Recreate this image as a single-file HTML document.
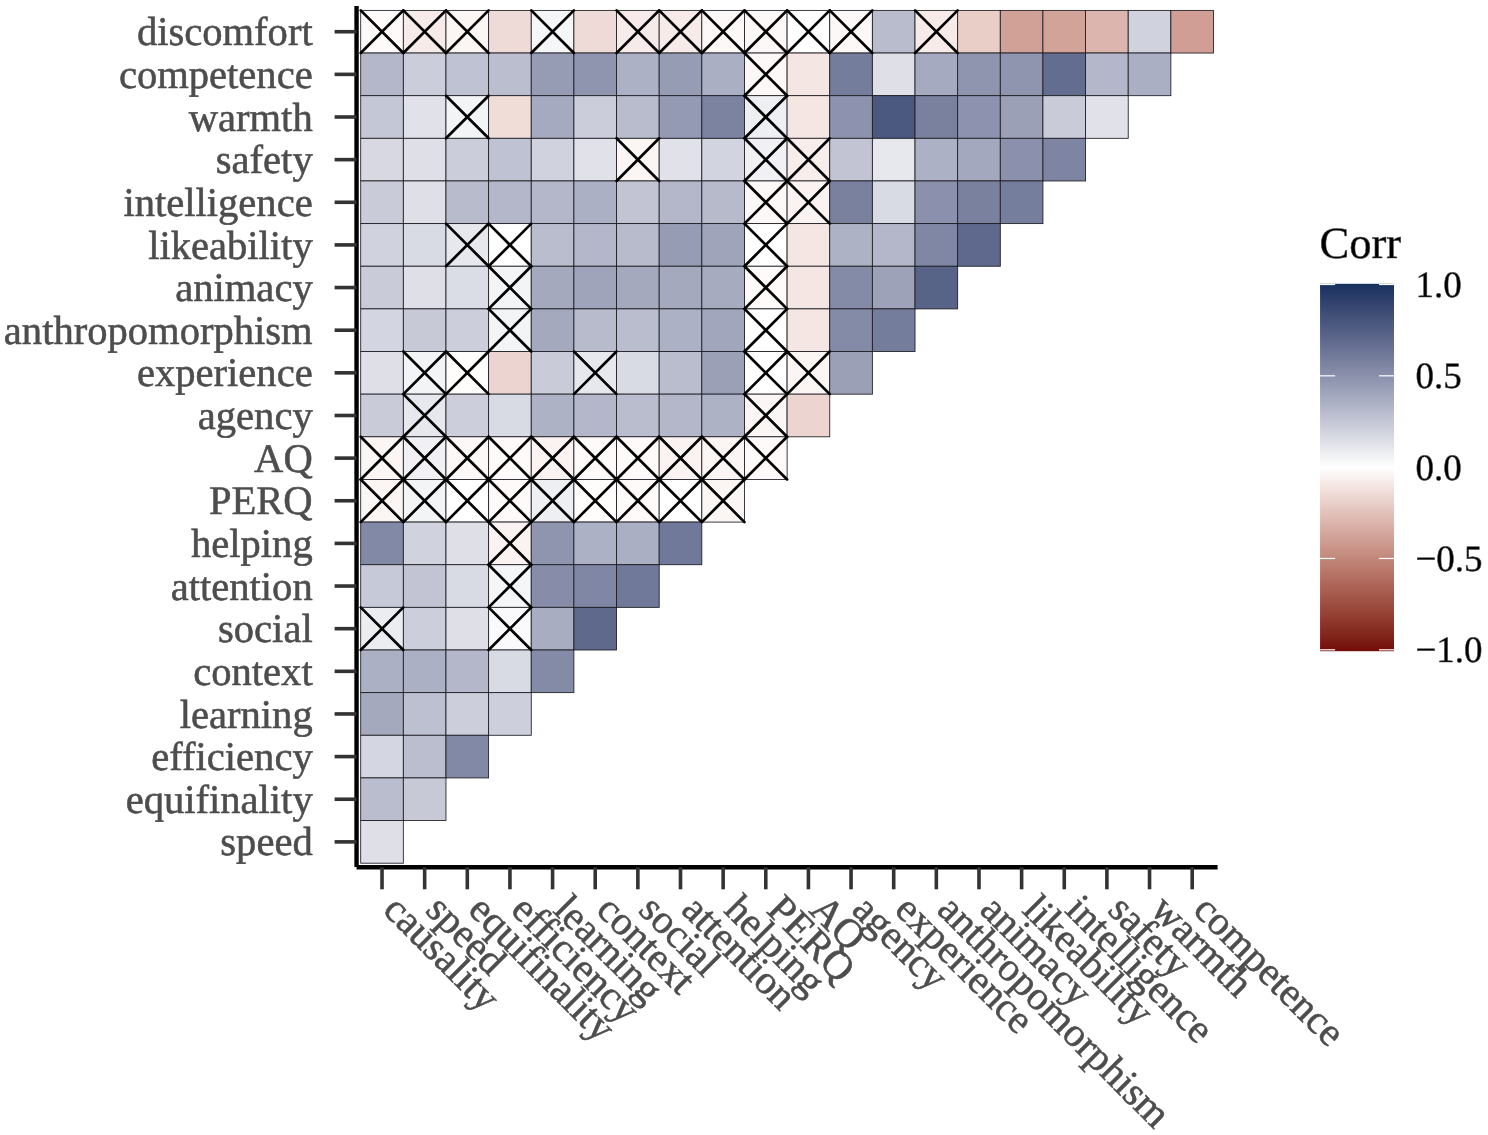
<!DOCTYPE html><html><head><meta charset="utf-8"><style>html,body{margin:0;padding:0;background:#fff;overflow:hidden}svg{display:block;will-change:transform}text{font-family:"Liberation Serif",serif;text-rendering:geometricPrecision;stroke:#4D4D4D;stroke-width:0.55px}</style></head><body>
<svg width="1488" height="1135" viewBox="0 0 1488 1135">
<rect width="100%" height="100%" fill="#fff"/>
<rect x="360.70" y="10.40" width="42.64" height="42.64" fill="#fdfaf9" stroke="#1c1c22" stroke-width="0.85"/>
<rect x="403.34" y="10.40" width="42.64" height="42.64" fill="#f6ebe9" stroke="#1c1c22" stroke-width="0.85"/>
<rect x="445.98" y="10.40" width="42.64" height="42.64" fill="#fbf5f4" stroke="#1c1c22" stroke-width="0.85"/>
<rect x="488.62" y="10.40" width="42.64" height="42.64" fill="#eedad6" stroke="#1c1c22" stroke-width="0.85"/>
<rect x="531.26" y="10.40" width="42.64" height="42.64" fill="#f5f6f8" stroke="#1c1c22" stroke-width="0.85"/>
<rect x="573.90" y="10.40" width="42.64" height="42.64" fill="#eedad6" stroke="#1c1c22" stroke-width="0.85"/>
<rect x="616.54" y="10.40" width="42.64" height="42.64" fill="#f6ebe9" stroke="#1c1c22" stroke-width="0.85"/>
<rect x="659.18" y="10.40" width="42.64" height="42.64" fill="#f6ebe9" stroke="#1c1c22" stroke-width="0.85"/>
<rect x="701.82" y="10.40" width="42.64" height="42.64" fill="#fcf8f7" stroke="#1c1c22" stroke-width="0.85"/>
<rect x="744.46" y="10.40" width="42.64" height="42.64" fill="#fcf8f7" stroke="#1c1c22" stroke-width="0.85"/>
<rect x="787.10" y="10.40" width="42.64" height="42.64" fill="#ffffff" stroke="#1c1c22" stroke-width="0.85"/>
<rect x="829.74" y="10.40" width="42.64" height="42.64" fill="#fcf8f7" stroke="#1c1c22" stroke-width="0.85"/>
<rect x="872.38" y="10.40" width="42.64" height="42.64" fill="#b8bccd" stroke="#1c1c22" stroke-width="0.85"/>
<rect x="915.02" y="10.40" width="42.64" height="42.64" fill="#f6ebe9" stroke="#1c1c22" stroke-width="0.85"/>
<rect x="957.66" y="10.40" width="42.64" height="42.64" fill="#e9cec8" stroke="#1c1c22" stroke-width="0.85"/>
<rect x="1000.30" y="10.40" width="42.64" height="42.64" fill="#d1a197" stroke="#1c1c22" stroke-width="0.85"/>
<rect x="1042.94" y="10.40" width="42.64" height="42.64" fill="#d2a399" stroke="#1c1c22" stroke-width="0.85"/>
<rect x="1085.58" y="10.40" width="42.64" height="42.64" fill="#dcb6ae" stroke="#1c1c22" stroke-width="0.85"/>
<rect x="1128.22" y="10.40" width="42.64" height="42.64" fill="#d0d2dd" stroke="#1c1c22" stroke-width="0.85"/>
<rect x="1170.86" y="10.40" width="42.64" height="42.64" fill="#d09e94" stroke="#1c1c22" stroke-width="0.85"/>
<rect x="360.70" y="53.04" width="42.64" height="42.64" fill="#b4b7c9" stroke="#1c1c22" stroke-width="0.85"/>
<rect x="403.34" y="53.04" width="42.64" height="42.64" fill="#cbcdda" stroke="#1c1c22" stroke-width="0.85"/>
<rect x="445.98" y="53.04" width="42.64" height="42.64" fill="#bfc2d2" stroke="#1c1c22" stroke-width="0.85"/>
<rect x="488.62" y="53.04" width="42.64" height="42.64" fill="#bbbece" stroke="#1c1c22" stroke-width="0.85"/>
<rect x="531.26" y="53.04" width="42.64" height="42.64" fill="#969cb4" stroke="#1c1c22" stroke-width="0.85"/>
<rect x="573.90" y="53.04" width="42.64" height="42.64" fill="#9095af" stroke="#1c1c22" stroke-width="0.85"/>
<rect x="616.54" y="53.04" width="42.64" height="42.64" fill="#adb1c5" stroke="#1c1c22" stroke-width="0.85"/>
<rect x="659.18" y="53.04" width="42.64" height="42.64" fill="#969cb4" stroke="#1c1c22" stroke-width="0.85"/>
<rect x="701.82" y="53.04" width="42.64" height="42.64" fill="#abafc3" stroke="#1c1c22" stroke-width="0.85"/>
<rect x="744.46" y="53.04" width="42.64" height="42.64" fill="#fcf8f7" stroke="#1c1c22" stroke-width="0.85"/>
<rect x="787.10" y="53.04" width="42.64" height="42.64" fill="#f4e6e3" stroke="#1c1c22" stroke-width="0.85"/>
<rect x="829.74" y="53.04" width="42.64" height="42.64" fill="#757d9c" stroke="#1c1c22" stroke-width="0.85"/>
<rect x="872.38" y="53.04" width="42.64" height="42.64" fill="#dedfe7" stroke="#1c1c22" stroke-width="0.85"/>
<rect x="915.02" y="53.04" width="42.64" height="42.64" fill="#a6aac0" stroke="#1c1c22" stroke-width="0.85"/>
<rect x="957.66" y="53.04" width="42.64" height="42.64" fill="#9095af" stroke="#1c1c22" stroke-width="0.85"/>
<rect x="1000.30" y="53.04" width="42.64" height="42.64" fill="#9095af" stroke="#1c1c22" stroke-width="0.85"/>
<rect x="1042.94" y="53.04" width="42.64" height="42.64" fill="#636d90" stroke="#1c1c22" stroke-width="0.85"/>
<rect x="1085.58" y="53.04" width="42.64" height="42.64" fill="#b4b7c9" stroke="#1c1c22" stroke-width="0.85"/>
<rect x="1128.22" y="53.04" width="42.64" height="42.64" fill="#abafc3" stroke="#1c1c22" stroke-width="0.85"/>
<rect x="360.70" y="95.68" width="42.64" height="42.64" fill="#c4c7d5" stroke="#1c1c22" stroke-width="0.85"/>
<rect x="403.34" y="95.68" width="42.64" height="42.64" fill="#e0e1e9" stroke="#1c1c22" stroke-width="0.85"/>
<rect x="445.98" y="95.68" width="42.64" height="42.64" fill="#f3f4f6" stroke="#1c1c22" stroke-width="0.85"/>
<rect x="488.62" y="95.68" width="42.64" height="42.64" fill="#f0ddd8" stroke="#1c1c22" stroke-width="0.85"/>
<rect x="531.26" y="95.68" width="42.64" height="42.64" fill="#a6aac0" stroke="#1c1c22" stroke-width="0.85"/>
<rect x="573.90" y="95.68" width="42.64" height="42.64" fill="#cbcdda" stroke="#1c1c22" stroke-width="0.85"/>
<rect x="616.54" y="95.68" width="42.64" height="42.64" fill="#b8bccd" stroke="#1c1c22" stroke-width="0.85"/>
<rect x="659.18" y="95.68" width="42.64" height="42.64" fill="#949ab3" stroke="#1c1c22" stroke-width="0.85"/>
<rect x="701.82" y="95.68" width="42.64" height="42.64" fill="#7c83a1" stroke="#1c1c22" stroke-width="0.85"/>
<rect x="744.46" y="95.68" width="42.64" height="42.64" fill="#eeeff3" stroke="#1c1c22" stroke-width="0.85"/>
<rect x="787.10" y="95.68" width="42.64" height="42.64" fill="#f4e6e3" stroke="#1c1c22" stroke-width="0.85"/>
<rect x="829.74" y="95.68" width="42.64" height="42.64" fill="#8d93ae" stroke="#1c1c22" stroke-width="0.85"/>
<rect x="872.38" y="95.68" width="42.64" height="42.64" fill="#4b587f" stroke="#1c1c22" stroke-width="0.85"/>
<rect x="915.02" y="95.68" width="42.64" height="42.64" fill="#79819f" stroke="#1c1c22" stroke-width="0.85"/>
<rect x="957.66" y="95.68" width="42.64" height="42.64" fill="#8d93ae" stroke="#1c1c22" stroke-width="0.85"/>
<rect x="1000.30" y="95.68" width="42.64" height="42.64" fill="#9ba0b7" stroke="#1c1c22" stroke-width="0.85"/>
<rect x="1042.94" y="95.68" width="42.64" height="42.64" fill="#c9cbd8" stroke="#1c1c22" stroke-width="0.85"/>
<rect x="1085.58" y="95.68" width="42.64" height="42.64" fill="#e0e1e9" stroke="#1c1c22" stroke-width="0.85"/>
<rect x="360.70" y="138.32" width="42.64" height="42.64" fill="#d7d8e2" stroke="#1c1c22" stroke-width="0.85"/>
<rect x="403.34" y="138.32" width="42.64" height="42.64" fill="#dedfe7" stroke="#1c1c22" stroke-width="0.85"/>
<rect x="445.98" y="138.32" width="42.64" height="42.64" fill="#cbcdda" stroke="#1c1c22" stroke-width="0.85"/>
<rect x="488.62" y="138.32" width="42.64" height="42.64" fill="#bfc2d2" stroke="#1c1c22" stroke-width="0.85"/>
<rect x="531.26" y="138.32" width="42.64" height="42.64" fill="#d0d2dd" stroke="#1c1c22" stroke-width="0.85"/>
<rect x="573.90" y="138.32" width="42.64" height="42.64" fill="#e0e1e9" stroke="#1c1c22" stroke-width="0.85"/>
<rect x="616.54" y="138.32" width="42.64" height="42.64" fill="#fbf5f4" stroke="#1c1c22" stroke-width="0.85"/>
<rect x="659.18" y="138.32" width="42.64" height="42.64" fill="#e0e1e9" stroke="#1c1c22" stroke-width="0.85"/>
<rect x="701.82" y="138.32" width="42.64" height="42.64" fill="#d2d4df" stroke="#1c1c22" stroke-width="0.85"/>
<rect x="744.46" y="138.32" width="42.64" height="42.64" fill="#f1f1f5" stroke="#1c1c22" stroke-width="0.85"/>
<rect x="787.10" y="138.32" width="42.64" height="42.64" fill="#f7eeec" stroke="#1c1c22" stroke-width="0.85"/>
<rect x="829.74" y="138.32" width="42.64" height="42.64" fill="#c2c4d3" stroke="#1c1c22" stroke-width="0.85"/>
<rect x="872.38" y="138.32" width="42.64" height="42.64" fill="#e7e8ee" stroke="#1c1c22" stroke-width="0.85"/>
<rect x="915.02" y="138.32" width="42.64" height="42.64" fill="#adb1c5" stroke="#1c1c22" stroke-width="0.85"/>
<rect x="957.66" y="138.32" width="42.64" height="42.64" fill="#a4a8be" stroke="#1c1c22" stroke-width="0.85"/>
<rect x="1000.30" y="138.32" width="42.64" height="42.64" fill="#8b91ac" stroke="#1c1c22" stroke-width="0.85"/>
<rect x="1042.94" y="138.32" width="42.64" height="42.64" fill="#7e85a3" stroke="#1c1c22" stroke-width="0.85"/>
<rect x="360.70" y="180.96" width="42.64" height="42.64" fill="#c9cbd8" stroke="#1c1c22" stroke-width="0.85"/>
<rect x="403.34" y="180.96" width="42.64" height="42.64" fill="#dedfe7" stroke="#1c1c22" stroke-width="0.85"/>
<rect x="445.98" y="180.96" width="42.64" height="42.64" fill="#b8bbcc" stroke="#1c1c22" stroke-width="0.85"/>
<rect x="488.62" y="180.96" width="42.64" height="42.64" fill="#b3b7c9" stroke="#1c1c22" stroke-width="0.85"/>
<rect x="531.26" y="180.96" width="42.64" height="42.64" fill="#b3b7c9" stroke="#1c1c22" stroke-width="0.85"/>
<rect x="573.90" y="180.96" width="42.64" height="42.64" fill="#acb0c4" stroke="#1c1c22" stroke-width="0.85"/>
<rect x="616.54" y="180.96" width="42.64" height="42.64" fill="#c2c4d3" stroke="#1c1c22" stroke-width="0.85"/>
<rect x="659.18" y="180.96" width="42.64" height="42.64" fill="#b3b7c9" stroke="#1c1c22" stroke-width="0.85"/>
<rect x="701.82" y="180.96" width="42.64" height="42.64" fill="#b6bacb" stroke="#1c1c22" stroke-width="0.85"/>
<rect x="744.46" y="180.96" width="42.64" height="42.64" fill="#fcf8f7" stroke="#1c1c22" stroke-width="0.85"/>
<rect x="787.10" y="180.96" width="42.64" height="42.64" fill="#faf3f1" stroke="#1c1c22" stroke-width="0.85"/>
<rect x="829.74" y="180.96" width="42.64" height="42.64" fill="#79819f" stroke="#1c1c22" stroke-width="0.85"/>
<rect x="872.38" y="180.96" width="42.64" height="42.64" fill="#d8dae4" stroke="#1c1c22" stroke-width="0.85"/>
<rect x="915.02" y="180.96" width="42.64" height="42.64" fill="#8b91ac" stroke="#1c1c22" stroke-width="0.85"/>
<rect x="957.66" y="180.96" width="42.64" height="42.64" fill="#79819f" stroke="#1c1c22" stroke-width="0.85"/>
<rect x="1000.30" y="180.96" width="42.64" height="42.64" fill="#767e9d" stroke="#1c1c22" stroke-width="0.85"/>
<rect x="360.70" y="223.60" width="42.64" height="42.64" fill="#d0d2dd" stroke="#1c1c22" stroke-width="0.85"/>
<rect x="403.34" y="223.60" width="42.64" height="42.64" fill="#d8dae4" stroke="#1c1c22" stroke-width="0.85"/>
<rect x="445.98" y="223.60" width="42.64" height="42.64" fill="#e7e8ee" stroke="#1c1c22" stroke-width="0.85"/>
<rect x="488.62" y="223.60" width="42.64" height="42.64" fill="#ffffff" stroke="#1c1c22" stroke-width="0.85"/>
<rect x="531.26" y="223.60" width="42.64" height="42.64" fill="#babdce" stroke="#1c1c22" stroke-width="0.85"/>
<rect x="573.90" y="223.60" width="42.64" height="42.64" fill="#b3b7c9" stroke="#1c1c22" stroke-width="0.85"/>
<rect x="616.54" y="223.60" width="42.64" height="42.64" fill="#b8bbcc" stroke="#1c1c22" stroke-width="0.85"/>
<rect x="659.18" y="223.60" width="42.64" height="42.64" fill="#969cb4" stroke="#1c1c22" stroke-width="0.85"/>
<rect x="701.82" y="223.60" width="42.64" height="42.64" fill="#9fa4bb" stroke="#1c1c22" stroke-width="0.85"/>
<rect x="744.46" y="223.60" width="42.64" height="42.64" fill="#ffffff" stroke="#1c1c22" stroke-width="0.85"/>
<rect x="787.10" y="223.60" width="42.64" height="42.64" fill="#f4e6e3" stroke="#1c1c22" stroke-width="0.85"/>
<rect x="829.74" y="223.60" width="42.64" height="42.64" fill="#aeb2c5" stroke="#1c1c22" stroke-width="0.85"/>
<rect x="872.38" y="223.60" width="42.64" height="42.64" fill="#b3b7c9" stroke="#1c1c22" stroke-width="0.85"/>
<rect x="915.02" y="223.60" width="42.64" height="42.64" fill="#8087a4" stroke="#1c1c22" stroke-width="0.85"/>
<rect x="957.66" y="223.60" width="42.64" height="42.64" fill="#5f698d" stroke="#1c1c22" stroke-width="0.85"/>
<rect x="360.70" y="266.24" width="42.64" height="42.64" fill="#c9cbd8" stroke="#1c1c22" stroke-width="0.85"/>
<rect x="403.34" y="266.24" width="42.64" height="42.64" fill="#dedfe7" stroke="#1c1c22" stroke-width="0.85"/>
<rect x="445.98" y="266.24" width="42.64" height="42.64" fill="#dbdde6" stroke="#1c1c22" stroke-width="0.85"/>
<rect x="488.62" y="266.24" width="42.64" height="42.64" fill="#f3f4f6" stroke="#1c1c22" stroke-width="0.85"/>
<rect x="531.26" y="266.24" width="42.64" height="42.64" fill="#a4a9be" stroke="#1c1c22" stroke-width="0.85"/>
<rect x="573.90" y="266.24" width="42.64" height="42.64" fill="#9fa4bb" stroke="#1c1c22" stroke-width="0.85"/>
<rect x="616.54" y="266.24" width="42.64" height="42.64" fill="#a4a9be" stroke="#1c1c22" stroke-width="0.85"/>
<rect x="659.18" y="266.24" width="42.64" height="42.64" fill="#a4a9be" stroke="#1c1c22" stroke-width="0.85"/>
<rect x="701.82" y="266.24" width="42.64" height="42.64" fill="#a7abc0" stroke="#1c1c22" stroke-width="0.85"/>
<rect x="744.46" y="266.24" width="42.64" height="42.64" fill="#fdfaf9" stroke="#1c1c22" stroke-width="0.85"/>
<rect x="787.10" y="266.24" width="42.64" height="42.64" fill="#f4e6e3" stroke="#1c1c22" stroke-width="0.85"/>
<rect x="829.74" y="266.24" width="42.64" height="42.64" fill="#848ba7" stroke="#1c1c22" stroke-width="0.85"/>
<rect x="872.38" y="266.24" width="42.64" height="42.64" fill="#9da2b9" stroke="#1c1c22" stroke-width="0.85"/>
<rect x="915.02" y="266.24" width="42.64" height="42.64" fill="#586388" stroke="#1c1c22" stroke-width="0.85"/>
<rect x="360.70" y="308.88" width="42.64" height="42.64" fill="#d3d5e0" stroke="#1c1c22" stroke-width="0.85"/>
<rect x="403.34" y="308.88" width="42.64" height="42.64" fill="#c7c9d7" stroke="#1c1c22" stroke-width="0.85"/>
<rect x="445.98" y="308.88" width="42.64" height="42.64" fill="#cccedb" stroke="#1c1c22" stroke-width="0.85"/>
<rect x="488.62" y="308.88" width="42.64" height="42.64" fill="#f3f4f6" stroke="#1c1c22" stroke-width="0.85"/>
<rect x="531.26" y="308.88" width="42.64" height="42.64" fill="#a4a9be" stroke="#1c1c22" stroke-width="0.85"/>
<rect x="573.90" y="308.88" width="42.64" height="42.64" fill="#b8bbcc" stroke="#1c1c22" stroke-width="0.85"/>
<rect x="616.54" y="308.88" width="42.64" height="42.64" fill="#babdce" stroke="#1c1c22" stroke-width="0.85"/>
<rect x="659.18" y="308.88" width="42.64" height="42.64" fill="#adb1c5" stroke="#1c1c22" stroke-width="0.85"/>
<rect x="701.82" y="308.88" width="42.64" height="42.64" fill="#a2a6bc" stroke="#1c1c22" stroke-width="0.85"/>
<rect x="744.46" y="308.88" width="42.64" height="42.64" fill="#ffffff" stroke="#1c1c22" stroke-width="0.85"/>
<rect x="787.10" y="308.88" width="42.64" height="42.64" fill="#f4e6e3" stroke="#1c1c22" stroke-width="0.85"/>
<rect x="829.74" y="308.88" width="42.64" height="42.64" fill="#848ba7" stroke="#1c1c22" stroke-width="0.85"/>
<rect x="872.38" y="308.88" width="42.64" height="42.64" fill="#757d9c" stroke="#1c1c22" stroke-width="0.85"/>
<rect x="360.70" y="351.52" width="42.64" height="42.64" fill="#dedfe7" stroke="#1c1c22" stroke-width="0.85"/>
<rect x="403.34" y="351.52" width="42.64" height="42.64" fill="#f3f4f6" stroke="#1c1c22" stroke-width="0.85"/>
<rect x="445.98" y="351.52" width="42.64" height="42.64" fill="#fefdfc" stroke="#1c1c22" stroke-width="0.85"/>
<rect x="488.62" y="351.52" width="42.64" height="42.64" fill="#ecd5d0" stroke="#1c1c22" stroke-width="0.85"/>
<rect x="531.26" y="351.52" width="42.64" height="42.64" fill="#c9cbd8" stroke="#1c1c22" stroke-width="0.85"/>
<rect x="573.90" y="351.52" width="42.64" height="42.64" fill="#e7e8ee" stroke="#1c1c22" stroke-width="0.85"/>
<rect x="616.54" y="351.52" width="42.64" height="42.64" fill="#d8dae4" stroke="#1c1c22" stroke-width="0.85"/>
<rect x="659.18" y="351.52" width="42.64" height="42.64" fill="#babdce" stroke="#1c1c22" stroke-width="0.85"/>
<rect x="701.82" y="351.52" width="42.64" height="42.64" fill="#9ba0b7" stroke="#1c1c22" stroke-width="0.85"/>
<rect x="744.46" y="351.52" width="42.64" height="42.64" fill="#ffffff" stroke="#1c1c22" stroke-width="0.85"/>
<rect x="787.10" y="351.52" width="42.64" height="42.64" fill="#fbf5f4" stroke="#1c1c22" stroke-width="0.85"/>
<rect x="829.74" y="351.52" width="42.64" height="42.64" fill="#9ba0b7" stroke="#1c1c22" stroke-width="0.85"/>
<rect x="360.70" y="394.16" width="42.64" height="42.64" fill="#c9cbd8" stroke="#1c1c22" stroke-width="0.85"/>
<rect x="403.34" y="394.16" width="42.64" height="42.64" fill="#e7e8ee" stroke="#1c1c22" stroke-width="0.85"/>
<rect x="445.98" y="394.16" width="42.64" height="42.64" fill="#cccedb" stroke="#1c1c22" stroke-width="0.85"/>
<rect x="488.62" y="394.16" width="42.64" height="42.64" fill="#d8dae4" stroke="#1c1c22" stroke-width="0.85"/>
<rect x="531.26" y="394.16" width="42.64" height="42.64" fill="#aeb2c5" stroke="#1c1c22" stroke-width="0.85"/>
<rect x="573.90" y="394.16" width="42.64" height="42.64" fill="#b3b7c9" stroke="#1c1c22" stroke-width="0.85"/>
<rect x="616.54" y="394.16" width="42.64" height="42.64" fill="#babdce" stroke="#1c1c22" stroke-width="0.85"/>
<rect x="659.18" y="394.16" width="42.64" height="42.64" fill="#b3b7c9" stroke="#1c1c22" stroke-width="0.85"/>
<rect x="701.82" y="394.16" width="42.64" height="42.64" fill="#aeb2c5" stroke="#1c1c22" stroke-width="0.85"/>
<rect x="744.46" y="394.16" width="42.64" height="42.64" fill="#fbf5f4" stroke="#1c1c22" stroke-width="0.85"/>
<rect x="787.10" y="394.16" width="42.64" height="42.64" fill="#ecd5d0" stroke="#1c1c22" stroke-width="0.85"/>
<rect x="360.70" y="436.80" width="42.64" height="42.64" fill="#fbf5f4" stroke="#1c1c22" stroke-width="0.85"/>
<rect x="403.34" y="436.80" width="42.64" height="42.64" fill="#f1f1f5" stroke="#1c1c22" stroke-width="0.85"/>
<rect x="445.98" y="436.80" width="42.64" height="42.64" fill="#fcf8f7" stroke="#1c1c22" stroke-width="0.85"/>
<rect x="488.62" y="436.80" width="42.64" height="42.64" fill="#fdfaf9" stroke="#1c1c22" stroke-width="0.85"/>
<rect x="531.26" y="436.80" width="42.64" height="42.64" fill="#faf3f1" stroke="#1c1c22" stroke-width="0.85"/>
<rect x="573.90" y="436.80" width="42.64" height="42.64" fill="#fdfaf9" stroke="#1c1c22" stroke-width="0.85"/>
<rect x="616.54" y="436.80" width="42.64" height="42.64" fill="#fdfaf9" stroke="#1c1c22" stroke-width="0.85"/>
<rect x="659.18" y="436.80" width="42.64" height="42.64" fill="#faf3f1" stroke="#1c1c22" stroke-width="0.85"/>
<rect x="701.82" y="436.80" width="42.64" height="42.64" fill="#fbf5f4" stroke="#1c1c22" stroke-width="0.85"/>
<rect x="744.46" y="436.80" width="42.64" height="42.64" fill="#fdfaf9" stroke="#1c1c22" stroke-width="0.85"/>
<rect x="360.70" y="479.44" width="42.64" height="42.64" fill="#fbf5f4" stroke="#1c1c22" stroke-width="0.85"/>
<rect x="403.34" y="479.44" width="42.64" height="42.64" fill="#f3f4f6" stroke="#1c1c22" stroke-width="0.85"/>
<rect x="445.98" y="479.44" width="42.64" height="42.64" fill="#ffffff" stroke="#1c1c22" stroke-width="0.85"/>
<rect x="488.62" y="479.44" width="42.64" height="42.64" fill="#fdfaf9" stroke="#1c1c22" stroke-width="0.85"/>
<rect x="531.26" y="479.44" width="42.64" height="42.64" fill="#eeeff3" stroke="#1c1c22" stroke-width="0.85"/>
<rect x="573.90" y="479.44" width="42.64" height="42.64" fill="#fefdfc" stroke="#1c1c22" stroke-width="0.85"/>
<rect x="616.54" y="479.44" width="42.64" height="42.64" fill="#fdfaf9" stroke="#1c1c22" stroke-width="0.85"/>
<rect x="659.18" y="479.44" width="42.64" height="42.64" fill="#ffffff" stroke="#1c1c22" stroke-width="0.85"/>
<rect x="701.82" y="479.44" width="42.64" height="42.64" fill="#fbf5f4" stroke="#1c1c22" stroke-width="0.85"/>
<rect x="360.70" y="522.08" width="42.64" height="42.64" fill="#8289a6" stroke="#1c1c22" stroke-width="0.85"/>
<rect x="403.34" y="522.08" width="42.64" height="42.64" fill="#d0d2dd" stroke="#1c1c22" stroke-width="0.85"/>
<rect x="445.98" y="522.08" width="42.64" height="42.64" fill="#dedfe7" stroke="#1c1c22" stroke-width="0.85"/>
<rect x="488.62" y="522.08" width="42.64" height="42.64" fill="#faf3f1" stroke="#1c1c22" stroke-width="0.85"/>
<rect x="531.26" y="522.08" width="42.64" height="42.64" fill="#9095af" stroke="#1c1c22" stroke-width="0.85"/>
<rect x="573.90" y="522.08" width="42.64" height="42.64" fill="#adb1c5" stroke="#1c1c22" stroke-width="0.85"/>
<rect x="616.54" y="522.08" width="42.64" height="42.64" fill="#abafc3" stroke="#1c1c22" stroke-width="0.85"/>
<rect x="659.18" y="522.08" width="42.64" height="42.64" fill="#707999" stroke="#1c1c22" stroke-width="0.85"/>
<rect x="360.70" y="564.72" width="42.64" height="42.64" fill="#c6c9d7" stroke="#1c1c22" stroke-width="0.85"/>
<rect x="403.34" y="564.72" width="42.64" height="42.64" fill="#c2c4d3" stroke="#1c1c22" stroke-width="0.85"/>
<rect x="445.98" y="564.72" width="42.64" height="42.64" fill="#d8dae4" stroke="#1c1c22" stroke-width="0.85"/>
<rect x="488.62" y="564.72" width="42.64" height="42.64" fill="#f5f6f8" stroke="#1c1c22" stroke-width="0.85"/>
<rect x="531.26" y="564.72" width="42.64" height="42.64" fill="#878da9" stroke="#1c1c22" stroke-width="0.85"/>
<rect x="573.90" y="564.72" width="42.64" height="42.64" fill="#8087a4" stroke="#1c1c22" stroke-width="0.85"/>
<rect x="616.54" y="564.72" width="42.64" height="42.64" fill="#707999" stroke="#1c1c22" stroke-width="0.85"/>
<rect x="360.70" y="607.36" width="42.64" height="42.64" fill="#ecedf1" stroke="#1c1c22" stroke-width="0.85"/>
<rect x="403.34" y="607.36" width="42.64" height="42.64" fill="#cccedb" stroke="#1c1c22" stroke-width="0.85"/>
<rect x="445.98" y="607.36" width="42.64" height="42.64" fill="#dedfe7" stroke="#1c1c22" stroke-width="0.85"/>
<rect x="488.62" y="607.36" width="42.64" height="42.64" fill="#fafafc" stroke="#1c1c22" stroke-width="0.85"/>
<rect x="531.26" y="607.36" width="42.64" height="42.64" fill="#a9adc2" stroke="#1c1c22" stroke-width="0.85"/>
<rect x="573.90" y="607.36" width="42.64" height="42.64" fill="#5e698c" stroke="#1c1c22" stroke-width="0.85"/>
<rect x="360.70" y="650.00" width="42.64" height="42.64" fill="#acb0c4" stroke="#1c1c22" stroke-width="0.85"/>
<rect x="403.34" y="650.00" width="42.64" height="42.64" fill="#acb0c4" stroke="#1c1c22" stroke-width="0.85"/>
<rect x="445.98" y="650.00" width="42.64" height="42.64" fill="#b4b7c9" stroke="#1c1c22" stroke-width="0.85"/>
<rect x="488.62" y="650.00" width="42.64" height="42.64" fill="#d8dae4" stroke="#1c1c22" stroke-width="0.85"/>
<rect x="531.26" y="650.00" width="42.64" height="42.64" fill="#848ba7" stroke="#1c1c22" stroke-width="0.85"/>
<rect x="360.70" y="692.64" width="42.64" height="42.64" fill="#a4a9be" stroke="#1c1c22" stroke-width="0.85"/>
<rect x="403.34" y="692.64" width="42.64" height="42.64" fill="#bdc0d0" stroke="#1c1c22" stroke-width="0.85"/>
<rect x="445.98" y="692.64" width="42.64" height="42.64" fill="#cccedb" stroke="#1c1c22" stroke-width="0.85"/>
<rect x="488.62" y="692.64" width="42.64" height="42.64" fill="#cdcfdc" stroke="#1c1c22" stroke-width="0.85"/>
<rect x="360.70" y="735.28" width="42.64" height="42.64" fill="#d4d6e1" stroke="#1c1c22" stroke-width="0.85"/>
<rect x="403.34" y="735.28" width="42.64" height="42.64" fill="#bbbece" stroke="#1c1c22" stroke-width="0.85"/>
<rect x="445.98" y="735.28" width="42.64" height="42.64" fill="#8289a6" stroke="#1c1c22" stroke-width="0.85"/>
<rect x="360.70" y="777.92" width="42.64" height="42.64" fill="#babdce" stroke="#1c1c22" stroke-width="0.85"/>
<rect x="403.34" y="777.92" width="42.64" height="42.64" fill="#c7c9d7" stroke="#1c1c22" stroke-width="0.85"/>
<rect x="360.70" y="820.56" width="42.64" height="42.64" fill="#dedfe7" stroke="#1c1c22" stroke-width="0.85"/>
<path d="M360.70 10.40L403.34 53.04M403.34 10.40L360.70 53.04" stroke="#000" stroke-width="2.7" fill="none" stroke-linecap="round"/>
<path d="M403.34 10.40L445.98 53.04M445.98 10.40L403.34 53.04" stroke="#000" stroke-width="2.7" fill="none" stroke-linecap="round"/>
<path d="M445.98 10.40L488.62 53.04M488.62 10.40L445.98 53.04" stroke="#000" stroke-width="2.7" fill="none" stroke-linecap="round"/>
<path d="M531.26 10.40L573.90 53.04M573.90 10.40L531.26 53.04" stroke="#000" stroke-width="2.7" fill="none" stroke-linecap="round"/>
<path d="M616.54 10.40L659.18 53.04M659.18 10.40L616.54 53.04" stroke="#000" stroke-width="2.7" fill="none" stroke-linecap="round"/>
<path d="M659.18 10.40L701.82 53.04M701.82 10.40L659.18 53.04" stroke="#000" stroke-width="2.7" fill="none" stroke-linecap="round"/>
<path d="M701.82 10.40L744.46 53.04M744.46 10.40L701.82 53.04" stroke="#000" stroke-width="2.7" fill="none" stroke-linecap="round"/>
<path d="M744.46 10.40L787.10 53.04M787.10 10.40L744.46 53.04" stroke="#000" stroke-width="2.7" fill="none" stroke-linecap="round"/>
<path d="M787.10 10.40L829.74 53.04M829.74 10.40L787.10 53.04" stroke="#000" stroke-width="2.7" fill="none" stroke-linecap="round"/>
<path d="M829.74 10.40L872.38 53.04M872.38 10.40L829.74 53.04" stroke="#000" stroke-width="2.7" fill="none" stroke-linecap="round"/>
<path d="M915.02 10.40L957.66 53.04M957.66 10.40L915.02 53.04" stroke="#000" stroke-width="2.7" fill="none" stroke-linecap="round"/>
<path d="M744.46 53.04L787.10 95.68M787.10 53.04L744.46 95.68" stroke="#000" stroke-width="2.7" fill="none" stroke-linecap="round"/>
<path d="M445.98 95.68L488.62 138.32M488.62 95.68L445.98 138.32" stroke="#000" stroke-width="2.7" fill="none" stroke-linecap="round"/>
<path d="M744.46 95.68L787.10 138.32M787.10 95.68L744.46 138.32" stroke="#000" stroke-width="2.7" fill="none" stroke-linecap="round"/>
<path d="M616.54 138.32L659.18 180.96M659.18 138.32L616.54 180.96" stroke="#000" stroke-width="2.7" fill="none" stroke-linecap="round"/>
<path d="M744.46 138.32L787.10 180.96M787.10 138.32L744.46 180.96" stroke="#000" stroke-width="2.7" fill="none" stroke-linecap="round"/>
<path d="M787.10 138.32L829.74 180.96M829.74 138.32L787.10 180.96" stroke="#000" stroke-width="2.7" fill="none" stroke-linecap="round"/>
<path d="M744.46 180.96L787.10 223.60M787.10 180.96L744.46 223.60" stroke="#000" stroke-width="2.7" fill="none" stroke-linecap="round"/>
<path d="M787.10 180.96L829.74 223.60M829.74 180.96L787.10 223.60" stroke="#000" stroke-width="2.7" fill="none" stroke-linecap="round"/>
<path d="M445.98 223.60L488.62 266.24M488.62 223.60L445.98 266.24" stroke="#000" stroke-width="2.7" fill="none" stroke-linecap="round"/>
<path d="M488.62 223.60L531.26 266.24M531.26 223.60L488.62 266.24" stroke="#000" stroke-width="2.7" fill="none" stroke-linecap="round"/>
<path d="M744.46 223.60L787.10 266.24M787.10 223.60L744.46 266.24" stroke="#000" stroke-width="2.7" fill="none" stroke-linecap="round"/>
<path d="M488.62 266.24L531.26 308.88M531.26 266.24L488.62 308.88" stroke="#000" stroke-width="2.7" fill="none" stroke-linecap="round"/>
<path d="M744.46 266.24L787.10 308.88M787.10 266.24L744.46 308.88" stroke="#000" stroke-width="2.7" fill="none" stroke-linecap="round"/>
<path d="M488.62 308.88L531.26 351.52M531.26 308.88L488.62 351.52" stroke="#000" stroke-width="2.7" fill="none" stroke-linecap="round"/>
<path d="M744.46 308.88L787.10 351.52M787.10 308.88L744.46 351.52" stroke="#000" stroke-width="2.7" fill="none" stroke-linecap="round"/>
<path d="M403.34 351.52L445.98 394.16M445.98 351.52L403.34 394.16" stroke="#000" stroke-width="2.7" fill="none" stroke-linecap="round"/>
<path d="M445.98 351.52L488.62 394.16M488.62 351.52L445.98 394.16" stroke="#000" stroke-width="2.7" fill="none" stroke-linecap="round"/>
<path d="M573.90 351.52L616.54 394.16M616.54 351.52L573.90 394.16" stroke="#000" stroke-width="2.7" fill="none" stroke-linecap="round"/>
<path d="M744.46 351.52L787.10 394.16M787.10 351.52L744.46 394.16" stroke="#000" stroke-width="2.7" fill="none" stroke-linecap="round"/>
<path d="M787.10 351.52L829.74 394.16M829.74 351.52L787.10 394.16" stroke="#000" stroke-width="2.7" fill="none" stroke-linecap="round"/>
<path d="M403.34 394.16L445.98 436.80M445.98 394.16L403.34 436.80" stroke="#000" stroke-width="2.7" fill="none" stroke-linecap="round"/>
<path d="M744.46 394.16L787.10 436.80M787.10 394.16L744.46 436.80" stroke="#000" stroke-width="2.7" fill="none" stroke-linecap="round"/>
<path d="M360.70 436.80L403.34 479.44M403.34 436.80L360.70 479.44" stroke="#000" stroke-width="2.7" fill="none" stroke-linecap="round"/>
<path d="M403.34 436.80L445.98 479.44M445.98 436.80L403.34 479.44" stroke="#000" stroke-width="2.7" fill="none" stroke-linecap="round"/>
<path d="M445.98 436.80L488.62 479.44M488.62 436.80L445.98 479.44" stroke="#000" stroke-width="2.7" fill="none" stroke-linecap="round"/>
<path d="M488.62 436.80L531.26 479.44M531.26 436.80L488.62 479.44" stroke="#000" stroke-width="2.7" fill="none" stroke-linecap="round"/>
<path d="M531.26 436.80L573.90 479.44M573.90 436.80L531.26 479.44" stroke="#000" stroke-width="2.7" fill="none" stroke-linecap="round"/>
<path d="M573.90 436.80L616.54 479.44M616.54 436.80L573.90 479.44" stroke="#000" stroke-width="2.7" fill="none" stroke-linecap="round"/>
<path d="M616.54 436.80L659.18 479.44M659.18 436.80L616.54 479.44" stroke="#000" stroke-width="2.7" fill="none" stroke-linecap="round"/>
<path d="M659.18 436.80L701.82 479.44M701.82 436.80L659.18 479.44" stroke="#000" stroke-width="2.7" fill="none" stroke-linecap="round"/>
<path d="M701.82 436.80L744.46 479.44M744.46 436.80L701.82 479.44" stroke="#000" stroke-width="2.7" fill="none" stroke-linecap="round"/>
<path d="M744.46 436.80L787.10 479.44M787.10 436.80L744.46 479.44" stroke="#000" stroke-width="2.7" fill="none" stroke-linecap="round"/>
<path d="M360.70 479.44L403.34 522.08M403.34 479.44L360.70 522.08" stroke="#000" stroke-width="2.7" fill="none" stroke-linecap="round"/>
<path d="M403.34 479.44L445.98 522.08M445.98 479.44L403.34 522.08" stroke="#000" stroke-width="2.7" fill="none" stroke-linecap="round"/>
<path d="M445.98 479.44L488.62 522.08M488.62 479.44L445.98 522.08" stroke="#000" stroke-width="2.7" fill="none" stroke-linecap="round"/>
<path d="M488.62 479.44L531.26 522.08M531.26 479.44L488.62 522.08" stroke="#000" stroke-width="2.7" fill="none" stroke-linecap="round"/>
<path d="M531.26 479.44L573.90 522.08M573.90 479.44L531.26 522.08" stroke="#000" stroke-width="2.7" fill="none" stroke-linecap="round"/>
<path d="M573.90 479.44L616.54 522.08M616.54 479.44L573.90 522.08" stroke="#000" stroke-width="2.7" fill="none" stroke-linecap="round"/>
<path d="M616.54 479.44L659.18 522.08M659.18 479.44L616.54 522.08" stroke="#000" stroke-width="2.7" fill="none" stroke-linecap="round"/>
<path d="M659.18 479.44L701.82 522.08M701.82 479.44L659.18 522.08" stroke="#000" stroke-width="2.7" fill="none" stroke-linecap="round"/>
<path d="M701.82 479.44L744.46 522.08M744.46 479.44L701.82 522.08" stroke="#000" stroke-width="2.7" fill="none" stroke-linecap="round"/>
<path d="M488.62 522.08L531.26 564.72M531.26 522.08L488.62 564.72" stroke="#000" stroke-width="2.7" fill="none" stroke-linecap="round"/>
<path d="M488.62 564.72L531.26 607.36M531.26 564.72L488.62 607.36" stroke="#000" stroke-width="2.7" fill="none" stroke-linecap="round"/>
<path d="M360.70 607.36L403.34 650.00M403.34 607.36L360.70 650.00" stroke="#000" stroke-width="2.7" fill="none" stroke-linecap="round"/>
<path d="M488.62 607.36L531.26 650.00M531.26 607.36L488.62 650.00" stroke="#000" stroke-width="2.7" fill="none" stroke-linecap="round"/>
<line x1="356.55" y1="6.0" x2="356.55" y2="866.9" stroke="#000" stroke-width="4.4"/>
<line x1="356.55" y1="867.3" x2="1217.6" y2="867.3" stroke="#000" stroke-width="4.4"/>
<line x1="334.6" y1="31.72" x2="356.55" y2="31.72" stroke="#333" stroke-width="3.6"/>
<line x1="334.6" y1="74.36" x2="356.55" y2="74.36" stroke="#333" stroke-width="3.6"/>
<line x1="334.6" y1="117.00" x2="356.55" y2="117.00" stroke="#333" stroke-width="3.6"/>
<line x1="334.6" y1="159.64" x2="356.55" y2="159.64" stroke="#333" stroke-width="3.6"/>
<line x1="334.6" y1="202.28" x2="356.55" y2="202.28" stroke="#333" stroke-width="3.6"/>
<line x1="334.6" y1="244.92" x2="356.55" y2="244.92" stroke="#333" stroke-width="3.6"/>
<line x1="334.6" y1="287.56" x2="356.55" y2="287.56" stroke="#333" stroke-width="3.6"/>
<line x1="334.6" y1="330.20" x2="356.55" y2="330.20" stroke="#333" stroke-width="3.6"/>
<line x1="334.6" y1="372.84" x2="356.55" y2="372.84" stroke="#333" stroke-width="3.6"/>
<line x1="334.6" y1="415.48" x2="356.55" y2="415.48" stroke="#333" stroke-width="3.6"/>
<line x1="334.6" y1="458.12" x2="356.55" y2="458.12" stroke="#333" stroke-width="3.6"/>
<line x1="334.6" y1="500.76" x2="356.55" y2="500.76" stroke="#333" stroke-width="3.6"/>
<line x1="334.6" y1="543.40" x2="356.55" y2="543.40" stroke="#333" stroke-width="3.6"/>
<line x1="334.6" y1="586.04" x2="356.55" y2="586.04" stroke="#333" stroke-width="3.6"/>
<line x1="334.6" y1="628.68" x2="356.55" y2="628.68" stroke="#333" stroke-width="3.6"/>
<line x1="334.6" y1="671.32" x2="356.55" y2="671.32" stroke="#333" stroke-width="3.6"/>
<line x1="334.6" y1="713.96" x2="356.55" y2="713.96" stroke="#333" stroke-width="3.6"/>
<line x1="334.6" y1="756.60" x2="356.55" y2="756.60" stroke="#333" stroke-width="3.6"/>
<line x1="334.6" y1="799.24" x2="356.55" y2="799.24" stroke="#333" stroke-width="3.6"/>
<line x1="334.6" y1="841.88" x2="356.55" y2="841.88" stroke="#333" stroke-width="3.6"/>
<line x1="382.02" y1="867.3" x2="382.02" y2="889.3" stroke="#333" stroke-width="3.6"/>
<line x1="424.66" y1="867.3" x2="424.66" y2="889.3" stroke="#333" stroke-width="3.6"/>
<line x1="467.30" y1="867.3" x2="467.30" y2="889.3" stroke="#333" stroke-width="3.6"/>
<line x1="509.94" y1="867.3" x2="509.94" y2="889.3" stroke="#333" stroke-width="3.6"/>
<line x1="552.58" y1="867.3" x2="552.58" y2="889.3" stroke="#333" stroke-width="3.6"/>
<line x1="595.22" y1="867.3" x2="595.22" y2="889.3" stroke="#333" stroke-width="3.6"/>
<line x1="637.86" y1="867.3" x2="637.86" y2="889.3" stroke="#333" stroke-width="3.6"/>
<line x1="680.50" y1="867.3" x2="680.50" y2="889.3" stroke="#333" stroke-width="3.6"/>
<line x1="723.14" y1="867.3" x2="723.14" y2="889.3" stroke="#333" stroke-width="3.6"/>
<line x1="765.78" y1="867.3" x2="765.78" y2="889.3" stroke="#333" stroke-width="3.6"/>
<line x1="808.42" y1="867.3" x2="808.42" y2="889.3" stroke="#333" stroke-width="3.6"/>
<line x1="851.06" y1="867.3" x2="851.06" y2="889.3" stroke="#333" stroke-width="3.6"/>
<line x1="893.70" y1="867.3" x2="893.70" y2="889.3" stroke="#333" stroke-width="3.6"/>
<line x1="936.34" y1="867.3" x2="936.34" y2="889.3" stroke="#333" stroke-width="3.6"/>
<line x1="978.98" y1="867.3" x2="978.98" y2="889.3" stroke="#333" stroke-width="3.6"/>
<line x1="1021.62" y1="867.3" x2="1021.62" y2="889.3" stroke="#333" stroke-width="3.6"/>
<line x1="1064.26" y1="867.3" x2="1064.26" y2="889.3" stroke="#333" stroke-width="3.6"/>
<line x1="1106.90" y1="867.3" x2="1106.90" y2="889.3" stroke="#333" stroke-width="3.6"/>
<line x1="1149.54" y1="867.3" x2="1149.54" y2="889.3" stroke="#333" stroke-width="3.6"/>
<line x1="1192.18" y1="867.3" x2="1192.18" y2="889.3" stroke="#333" stroke-width="3.6"/>
<text x="312.7" y="45.32" font-size="40.6" fill="#4D4D4D" text-anchor="end">discomfort</text>
<text x="312.7" y="87.96" font-size="40.6" fill="#4D4D4D" text-anchor="end">competence</text>
<text x="312.7" y="130.60" font-size="40.6" fill="#4D4D4D" text-anchor="end">warmth</text>
<text x="312.7" y="173.24" font-size="40.6" fill="#4D4D4D" text-anchor="end">safety</text>
<text x="312.7" y="215.88" font-size="40.6" fill="#4D4D4D" text-anchor="end">intelligence</text>
<text x="312.7" y="258.52" font-size="40.6" fill="#4D4D4D" text-anchor="end">likeability</text>
<text x="312.7" y="301.16" font-size="40.6" fill="#4D4D4D" text-anchor="end">animacy</text>
<text x="312.7" y="343.80" font-size="40.6" fill="#4D4D4D" text-anchor="end">anthropomorphism</text>
<text x="312.7" y="386.44" font-size="40.6" fill="#4D4D4D" text-anchor="end">experience</text>
<text x="312.7" y="429.08" font-size="40.6" fill="#4D4D4D" text-anchor="end">agency</text>
<text x="312.7" y="471.72" font-size="40.6" fill="#4D4D4D" text-anchor="end">AQ</text>
<text x="312.7" y="514.36" font-size="40.6" fill="#4D4D4D" text-anchor="end">PERQ</text>
<text x="312.7" y="557.00" font-size="40.6" fill="#4D4D4D" text-anchor="end">helping</text>
<text x="312.7" y="599.64" font-size="40.6" fill="#4D4D4D" text-anchor="end">attention</text>
<text x="312.7" y="642.28" font-size="40.6" fill="#4D4D4D" text-anchor="end">social</text>
<text x="312.7" y="684.92" font-size="40.6" fill="#4D4D4D" text-anchor="end">context</text>
<text x="312.7" y="727.56" font-size="40.6" fill="#4D4D4D" text-anchor="end">learning</text>
<text x="312.7" y="770.20" font-size="40.6" fill="#4D4D4D" text-anchor="end">efficiency</text>
<text x="312.7" y="812.84" font-size="40.6" fill="#4D4D4D" text-anchor="end">equifinality</text>
<text x="312.7" y="855.48" font-size="40.6" fill="#4D4D4D" text-anchor="end">speed</text>
<text x="0" y="0" font-size="40.6" fill="#4D4D4D" transform="translate(381.52 911.50) rotate(45)">causality</text>
<text x="0" y="0" font-size="40.6" fill="#4D4D4D" transform="translate(424.16 911.50) rotate(45)">speed</text>
<text x="0" y="0" font-size="40.6" fill="#4D4D4D" transform="translate(466.80 911.50) rotate(45)">equifinality</text>
<text x="0" y="0" font-size="40.6" fill="#4D4D4D" transform="translate(509.44 911.50) rotate(45)">efficiency</text>
<text x="0" y="0" font-size="40.6" fill="#4D4D4D" transform="translate(552.08 911.50) rotate(45)">learning</text>
<text x="0" y="0" font-size="40.6" fill="#4D4D4D" transform="translate(594.72 911.50) rotate(45)">context</text>
<text x="0" y="0" font-size="40.6" fill="#4D4D4D" transform="translate(637.36 911.50) rotate(45)">social</text>
<text x="0" y="0" font-size="40.6" fill="#4D4D4D" transform="translate(680.00 911.50) rotate(45)">attention</text>
<text x="0" y="0" font-size="40.6" fill="#4D4D4D" transform="translate(722.64 911.50) rotate(45)">helping</text>
<text x="0" y="0" font-size="40.6" fill="#4D4D4D" transform="translate(765.28 911.50) rotate(45)">PERQ</text>
<text x="0" y="0" font-size="40.6" fill="#4D4D4D" transform="translate(807.92 911.50) rotate(45)">AQ</text>
<text x="0" y="0" font-size="40.6" fill="#4D4D4D" transform="translate(850.56 911.50) rotate(45)">agency</text>
<text x="0" y="0" font-size="40.6" fill="#4D4D4D" transform="translate(893.20 911.50) rotate(45)">experience</text>
<text x="0" y="0" font-size="40.6" fill="#4D4D4D" transform="translate(935.84 911.50) rotate(45)">anthropomorphism</text>
<text x="0" y="0" font-size="40.6" fill="#4D4D4D" transform="translate(978.48 911.50) rotate(45)">animacy</text>
<text x="0" y="0" font-size="40.6" fill="#4D4D4D" transform="translate(1021.12 911.50) rotate(45)">likeability</text>
<text x="0" y="0" font-size="40.6" fill="#4D4D4D" transform="translate(1063.76 911.50) rotate(45)">intelligence</text>
<text x="0" y="0" font-size="40.6" fill="#4D4D4D" transform="translate(1106.40 911.50) rotate(45)">safety</text>
<text x="0" y="0" font-size="40.6" fill="#4D4D4D" transform="translate(1149.04 911.50) rotate(45)">warmth</text>
<text x="0" y="0" font-size="40.6" fill="#4D4D4D" transform="translate(1191.68 911.50) rotate(45)">competence</text>
<rect x="1320.1" y="283.80" width="73.90000000000009" height="1.60" fill="#18325f"/>
<rect x="1320.1" y="284.80" width="73.90000000000009" height="1.60" fill="#193360"/>
<rect x="1320.1" y="285.80" width="73.90000000000009" height="1.60" fill="#1b3460"/>
<rect x="1320.1" y="286.80" width="73.90000000000009" height="1.60" fill="#1d3561"/>
<rect x="1320.1" y="287.80" width="73.90000000000009" height="1.60" fill="#1e3662"/>
<rect x="1320.1" y="288.80" width="73.90000000000009" height="1.60" fill="#203663"/>
<rect x="1320.1" y="289.80" width="73.90000000000009" height="1.60" fill="#213764"/>
<rect x="1320.1" y="290.80" width="73.90000000000009" height="1.60" fill="#233865"/>
<rect x="1320.1" y="291.80" width="73.90000000000009" height="1.60" fill="#243965"/>
<rect x="1320.1" y="292.80" width="73.90000000000009" height="1.60" fill="#253a66"/>
<rect x="1320.1" y="293.79" width="73.90000000000009" height="1.60" fill="#273b67"/>
<rect x="1320.1" y="294.79" width="73.90000000000009" height="1.60" fill="#283c68"/>
<rect x="1320.1" y="295.79" width="73.90000000000009" height="1.60" fill="#2a3d69"/>
<rect x="1320.1" y="296.79" width="73.90000000000009" height="1.60" fill="#2b3e69"/>
<rect x="1320.1" y="297.79" width="73.90000000000009" height="1.60" fill="#2c3f6a"/>
<rect x="1320.1" y="298.79" width="73.90000000000009" height="1.60" fill="#2e406b"/>
<rect x="1320.1" y="299.79" width="73.90000000000009" height="1.60" fill="#2f416c"/>
<rect x="1320.1" y="300.79" width="73.90000000000009" height="1.60" fill="#30426d"/>
<rect x="1320.1" y="301.79" width="73.90000000000009" height="1.60" fill="#31436e"/>
<rect x="1320.1" y="302.79" width="73.90000000000009" height="1.60" fill="#33446e"/>
<rect x="1320.1" y="303.79" width="73.90000000000009" height="1.60" fill="#34456f"/>
<rect x="1320.1" y="304.79" width="73.90000000000009" height="1.60" fill="#354670"/>
<rect x="1320.1" y="305.79" width="73.90000000000009" height="1.60" fill="#374771"/>
<rect x="1320.1" y="306.79" width="73.90000000000009" height="1.60" fill="#384872"/>
<rect x="1320.1" y="307.79" width="73.90000000000009" height="1.60" fill="#394973"/>
<rect x="1320.1" y="308.79" width="73.90000000000009" height="1.60" fill="#3a4a73"/>
<rect x="1320.1" y="309.79" width="73.90000000000009" height="1.60" fill="#3c4b74"/>
<rect x="1320.1" y="310.79" width="73.90000000000009" height="1.60" fill="#3d4c75"/>
<rect x="1320.1" y="311.78" width="73.90000000000009" height="1.60" fill="#3e4d76"/>
<rect x="1320.1" y="312.78" width="73.90000000000009" height="1.60" fill="#3f4e77"/>
<rect x="1320.1" y="313.78" width="73.90000000000009" height="1.60" fill="#414f77"/>
<rect x="1320.1" y="314.78" width="73.90000000000009" height="1.60" fill="#425078"/>
<rect x="1320.1" y="315.78" width="73.90000000000009" height="1.60" fill="#435179"/>
<rect x="1320.1" y="316.78" width="73.90000000000009" height="1.60" fill="#44527a"/>
<rect x="1320.1" y="317.78" width="73.90000000000009" height="1.60" fill="#45537b"/>
<rect x="1320.1" y="318.78" width="73.90000000000009" height="1.60" fill="#47547c"/>
<rect x="1320.1" y="319.78" width="73.90000000000009" height="1.60" fill="#48557d"/>
<rect x="1320.1" y="320.78" width="73.90000000000009" height="1.60" fill="#49567d"/>
<rect x="1320.1" y="321.78" width="73.90000000000009" height="1.60" fill="#4a577e"/>
<rect x="1320.1" y="322.78" width="73.90000000000009" height="1.60" fill="#4c587f"/>
<rect x="1320.1" y="323.78" width="73.90000000000009" height="1.60" fill="#4d5980"/>
<rect x="1320.1" y="324.78" width="73.90000000000009" height="1.60" fill="#4e5a81"/>
<rect x="1320.1" y="325.78" width="73.90000000000009" height="1.60" fill="#4f5b82"/>
<rect x="1320.1" y="326.78" width="73.90000000000009" height="1.60" fill="#505c82"/>
<rect x="1320.1" y="327.78" width="73.90000000000009" height="1.60" fill="#525d83"/>
<rect x="1320.1" y="328.78" width="73.90000000000009" height="1.60" fill="#535e84"/>
<rect x="1320.1" y="329.77" width="73.90000000000009" height="1.60" fill="#545f85"/>
<rect x="1320.1" y="330.77" width="73.90000000000009" height="1.60" fill="#556086"/>
<rect x="1320.1" y="331.77" width="73.90000000000009" height="1.60" fill="#566287"/>
<rect x="1320.1" y="332.77" width="73.90000000000009" height="1.60" fill="#586387"/>
<rect x="1320.1" y="333.77" width="73.90000000000009" height="1.60" fill="#596488"/>
<rect x="1320.1" y="334.77" width="73.90000000000009" height="1.60" fill="#5a6589"/>
<rect x="1320.1" y="335.77" width="73.90000000000009" height="1.60" fill="#5b668a"/>
<rect x="1320.1" y="336.77" width="73.90000000000009" height="1.60" fill="#5c678b"/>
<rect x="1320.1" y="337.77" width="73.90000000000009" height="1.60" fill="#5e688c"/>
<rect x="1320.1" y="338.77" width="73.90000000000009" height="1.60" fill="#5f698d"/>
<rect x="1320.1" y="339.77" width="73.90000000000009" height="1.60" fill="#606a8d"/>
<rect x="1320.1" y="340.77" width="73.90000000000009" height="1.60" fill="#616b8e"/>
<rect x="1320.1" y="341.77" width="73.90000000000009" height="1.60" fill="#626c8f"/>
<rect x="1320.1" y="342.77" width="73.90000000000009" height="1.60" fill="#646d90"/>
<rect x="1320.1" y="343.77" width="73.90000000000009" height="1.60" fill="#656e91"/>
<rect x="1320.1" y="344.77" width="73.90000000000009" height="1.60" fill="#666f92"/>
<rect x="1320.1" y="345.77" width="73.90000000000009" height="1.60" fill="#677093"/>
<rect x="1320.1" y="346.77" width="73.90000000000009" height="1.60" fill="#687293"/>
<rect x="1320.1" y="347.77" width="73.90000000000009" height="1.60" fill="#6a7394"/>
<rect x="1320.1" y="348.76" width="73.90000000000009" height="1.60" fill="#6b7495"/>
<rect x="1320.1" y="349.76" width="73.90000000000009" height="1.60" fill="#6c7596"/>
<rect x="1320.1" y="350.76" width="73.90000000000009" height="1.60" fill="#6d7697"/>
<rect x="1320.1" y="351.76" width="73.90000000000009" height="1.60" fill="#6e7798"/>
<rect x="1320.1" y="352.76" width="73.90000000000009" height="1.60" fill="#707899"/>
<rect x="1320.1" y="353.76" width="73.90000000000009" height="1.60" fill="#717999"/>
<rect x="1320.1" y="354.76" width="73.90000000000009" height="1.60" fill="#727a9a"/>
<rect x="1320.1" y="355.76" width="73.90000000000009" height="1.60" fill="#737b9b"/>
<rect x="1320.1" y="356.76" width="73.90000000000009" height="1.60" fill="#757c9c"/>
<rect x="1320.1" y="357.76" width="73.90000000000009" height="1.60" fill="#767e9d"/>
<rect x="1320.1" y="358.76" width="73.90000000000009" height="1.60" fill="#777f9e"/>
<rect x="1320.1" y="359.76" width="73.90000000000009" height="1.60" fill="#78809f"/>
<rect x="1320.1" y="360.76" width="73.90000000000009" height="1.60" fill="#79819f"/>
<rect x="1320.1" y="361.76" width="73.90000000000009" height="1.60" fill="#7b82a0"/>
<rect x="1320.1" y="362.76" width="73.90000000000009" height="1.60" fill="#7c83a1"/>
<rect x="1320.1" y="363.76" width="73.90000000000009" height="1.60" fill="#7d84a2"/>
<rect x="1320.1" y="364.76" width="73.90000000000009" height="1.60" fill="#7e85a3"/>
<rect x="1320.1" y="365.76" width="73.90000000000009" height="1.60" fill="#7f86a4"/>
<rect x="1320.1" y="366.75" width="73.90000000000009" height="1.60" fill="#8188a5"/>
<rect x="1320.1" y="367.75" width="73.90000000000009" height="1.60" fill="#8289a6"/>
<rect x="1320.1" y="368.75" width="73.90000000000009" height="1.60" fill="#838aa6"/>
<rect x="1320.1" y="369.75" width="73.90000000000009" height="1.60" fill="#848ba7"/>
<rect x="1320.1" y="370.75" width="73.90000000000009" height="1.60" fill="#868ca8"/>
<rect x="1320.1" y="371.75" width="73.90000000000009" height="1.60" fill="#878da9"/>
<rect x="1320.1" y="372.75" width="73.90000000000009" height="1.60" fill="#888eaa"/>
<rect x="1320.1" y="373.75" width="73.90000000000009" height="1.60" fill="#898fab"/>
<rect x="1320.1" y="374.75" width="73.90000000000009" height="1.60" fill="#8a91ac"/>
<rect x="1320.1" y="375.75" width="73.90000000000009" height="1.60" fill="#8c92ad"/>
<rect x="1320.1" y="376.75" width="73.90000000000009" height="1.60" fill="#8d93ad"/>
<rect x="1320.1" y="377.75" width="73.90000000000009" height="1.60" fill="#8e94ae"/>
<rect x="1320.1" y="378.75" width="73.90000000000009" height="1.60" fill="#8f95af"/>
<rect x="1320.1" y="379.75" width="73.90000000000009" height="1.60" fill="#9196b0"/>
<rect x="1320.1" y="380.75" width="73.90000000000009" height="1.60" fill="#9297b1"/>
<rect x="1320.1" y="381.75" width="73.90000000000009" height="1.60" fill="#9399b2"/>
<rect x="1320.1" y="382.75" width="73.90000000000009" height="1.60" fill="#949ab3"/>
<rect x="1320.1" y="383.75" width="73.90000000000009" height="1.60" fill="#959bb4"/>
<rect x="1320.1" y="384.74" width="73.90000000000009" height="1.60" fill="#979cb5"/>
<rect x="1320.1" y="385.74" width="73.90000000000009" height="1.60" fill="#989db5"/>
<rect x="1320.1" y="386.74" width="73.90000000000009" height="1.60" fill="#999eb6"/>
<rect x="1320.1" y="387.74" width="73.90000000000009" height="1.60" fill="#9a9fb7"/>
<rect x="1320.1" y="388.74" width="73.90000000000009" height="1.60" fill="#9ca1b8"/>
<rect x="1320.1" y="389.74" width="73.90000000000009" height="1.60" fill="#9da2b9"/>
<rect x="1320.1" y="390.74" width="73.90000000000009" height="1.60" fill="#9ea3ba"/>
<rect x="1320.1" y="391.74" width="73.90000000000009" height="1.60" fill="#9fa4bb"/>
<rect x="1320.1" y="392.74" width="73.90000000000009" height="1.60" fill="#a1a5bc"/>
<rect x="1320.1" y="393.74" width="73.90000000000009" height="1.60" fill="#a2a6bc"/>
<rect x="1320.1" y="394.74" width="73.90000000000009" height="1.60" fill="#a3a8bd"/>
<rect x="1320.1" y="395.74" width="73.90000000000009" height="1.60" fill="#a4a9be"/>
<rect x="1320.1" y="396.74" width="73.90000000000009" height="1.60" fill="#a5aabf"/>
<rect x="1320.1" y="397.74" width="73.90000000000009" height="1.60" fill="#a7abc0"/>
<rect x="1320.1" y="398.74" width="73.90000000000009" height="1.60" fill="#a8acc1"/>
<rect x="1320.1" y="399.74" width="73.90000000000009" height="1.60" fill="#a9adc2"/>
<rect x="1320.1" y="400.74" width="73.90000000000009" height="1.60" fill="#aaafc3"/>
<rect x="1320.1" y="401.74" width="73.90000000000009" height="1.60" fill="#acb0c4"/>
<rect x="1320.1" y="402.74" width="73.90000000000009" height="1.60" fill="#adb1c5"/>
<rect x="1320.1" y="403.73" width="73.90000000000009" height="1.60" fill="#aeb2c5"/>
<rect x="1320.1" y="404.73" width="73.90000000000009" height="1.60" fill="#afb3c6"/>
<rect x="1320.1" y="405.73" width="73.90000000000009" height="1.60" fill="#b1b4c7"/>
<rect x="1320.1" y="406.73" width="73.90000000000009" height="1.60" fill="#b2b6c8"/>
<rect x="1320.1" y="407.73" width="73.90000000000009" height="1.60" fill="#b3b7c9"/>
<rect x="1320.1" y="408.73" width="73.90000000000009" height="1.60" fill="#b4b8ca"/>
<rect x="1320.1" y="409.73" width="73.90000000000009" height="1.60" fill="#b6b9cb"/>
<rect x="1320.1" y="410.73" width="73.90000000000009" height="1.60" fill="#b7bacc"/>
<rect x="1320.1" y="411.73" width="73.90000000000009" height="1.60" fill="#b8bccd"/>
<rect x="1320.1" y="412.73" width="73.90000000000009" height="1.60" fill="#babdcd"/>
<rect x="1320.1" y="413.73" width="73.90000000000009" height="1.60" fill="#bbbece"/>
<rect x="1320.1" y="414.73" width="73.90000000000009" height="1.60" fill="#bcbfcf"/>
<rect x="1320.1" y="415.73" width="73.90000000000009" height="1.60" fill="#bdc0d0"/>
<rect x="1320.1" y="416.73" width="73.90000000000009" height="1.60" fill="#bfc2d1"/>
<rect x="1320.1" y="417.73" width="73.90000000000009" height="1.60" fill="#c0c3d2"/>
<rect x="1320.1" y="418.73" width="73.90000000000009" height="1.60" fill="#c1c4d3"/>
<rect x="1320.1" y="419.73" width="73.90000000000009" height="1.60" fill="#c2c5d4"/>
<rect x="1320.1" y="420.73" width="73.90000000000009" height="1.60" fill="#c4c6d5"/>
<rect x="1320.1" y="421.72" width="73.90000000000009" height="1.60" fill="#c5c8d6"/>
<rect x="1320.1" y="422.72" width="73.90000000000009" height="1.60" fill="#c6c9d7"/>
<rect x="1320.1" y="423.72" width="73.90000000000009" height="1.60" fill="#c7cad7"/>
<rect x="1320.1" y="424.72" width="73.90000000000009" height="1.60" fill="#c9cbd8"/>
<rect x="1320.1" y="425.72" width="73.90000000000009" height="1.60" fill="#caccd9"/>
<rect x="1320.1" y="426.72" width="73.90000000000009" height="1.60" fill="#cbceda"/>
<rect x="1320.1" y="427.72" width="73.90000000000009" height="1.60" fill="#cdcfdb"/>
<rect x="1320.1" y="428.72" width="73.90000000000009" height="1.60" fill="#ced0dc"/>
<rect x="1320.1" y="429.72" width="73.90000000000009" height="1.60" fill="#cfd1dd"/>
<rect x="1320.1" y="430.72" width="73.90000000000009" height="1.60" fill="#d0d2de"/>
<rect x="1320.1" y="431.72" width="73.90000000000009" height="1.60" fill="#d2d4df"/>
<rect x="1320.1" y="432.72" width="73.90000000000009" height="1.60" fill="#d3d5e0"/>
<rect x="1320.1" y="433.72" width="73.90000000000009" height="1.60" fill="#d4d6e1"/>
<rect x="1320.1" y="434.72" width="73.90000000000009" height="1.60" fill="#d5d7e1"/>
<rect x="1320.1" y="435.72" width="73.90000000000009" height="1.60" fill="#d7d9e2"/>
<rect x="1320.1" y="436.72" width="73.90000000000009" height="1.60" fill="#d8dae3"/>
<rect x="1320.1" y="437.72" width="73.90000000000009" height="1.60" fill="#d9dbe4"/>
<rect x="1320.1" y="438.72" width="73.90000000000009" height="1.60" fill="#dbdce5"/>
<rect x="1320.1" y="439.71" width="73.90000000000009" height="1.60" fill="#dcdde6"/>
<rect x="1320.1" y="440.71" width="73.90000000000009" height="1.60" fill="#dddfe7"/>
<rect x="1320.1" y="441.71" width="73.90000000000009" height="1.60" fill="#dee0e8"/>
<rect x="1320.1" y="442.71" width="73.90000000000009" height="1.60" fill="#e0e1e9"/>
<rect x="1320.1" y="443.71" width="73.90000000000009" height="1.60" fill="#e1e2ea"/>
<rect x="1320.1" y="444.71" width="73.90000000000009" height="1.60" fill="#e2e4eb"/>
<rect x="1320.1" y="445.71" width="73.90000000000009" height="1.60" fill="#e4e5ec"/>
<rect x="1320.1" y="446.71" width="73.90000000000009" height="1.60" fill="#e5e6ec"/>
<rect x="1320.1" y="447.71" width="73.90000000000009" height="1.60" fill="#e6e7ed"/>
<rect x="1320.1" y="448.71" width="73.90000000000009" height="1.60" fill="#e8e9ee"/>
<rect x="1320.1" y="449.71" width="73.90000000000009" height="1.60" fill="#e9eaef"/>
<rect x="1320.1" y="450.71" width="73.90000000000009" height="1.60" fill="#eaebf0"/>
<rect x="1320.1" y="451.71" width="73.90000000000009" height="1.60" fill="#ebecf1"/>
<rect x="1320.1" y="452.71" width="73.90000000000009" height="1.60" fill="#edeef2"/>
<rect x="1320.1" y="453.71" width="73.90000000000009" height="1.60" fill="#eeeff3"/>
<rect x="1320.1" y="454.71" width="73.90000000000009" height="1.60" fill="#eff0f4"/>
<rect x="1320.1" y="455.71" width="73.90000000000009" height="1.60" fill="#f1f1f5"/>
<rect x="1320.1" y="456.71" width="73.90000000000009" height="1.60" fill="#f2f3f6"/>
<rect x="1320.1" y="457.71" width="73.90000000000009" height="1.60" fill="#f3f4f7"/>
<rect x="1320.1" y="458.70" width="73.90000000000009" height="1.60" fill="#f5f5f8"/>
<rect x="1320.1" y="459.70" width="73.90000000000009" height="1.60" fill="#f6f6f9"/>
<rect x="1320.1" y="460.70" width="73.90000000000009" height="1.60" fill="#f7f8f9"/>
<rect x="1320.1" y="461.70" width="73.90000000000009" height="1.60" fill="#f8f9fa"/>
<rect x="1320.1" y="462.70" width="73.90000000000009" height="1.60" fill="#fafafb"/>
<rect x="1320.1" y="463.70" width="73.90000000000009" height="1.60" fill="#fbfbfc"/>
<rect x="1320.1" y="464.70" width="73.90000000000009" height="1.60" fill="#fcfdfd"/>
<rect x="1320.1" y="465.70" width="73.90000000000009" height="1.60" fill="#fefefe"/>
<rect x="1320.1" y="466.70" width="73.90000000000009" height="1.60" fill="#ffffff"/>
<rect x="1320.1" y="467.70" width="73.90000000000009" height="1.60" fill="#fefefd"/>
<rect x="1320.1" y="468.70" width="73.90000000000009" height="1.60" fill="#fefcfc"/>
<rect x="1320.1" y="469.70" width="73.90000000000009" height="1.60" fill="#fdfbfa"/>
<rect x="1320.1" y="470.70" width="73.90000000000009" height="1.60" fill="#fdf9f9"/>
<rect x="1320.1" y="471.70" width="73.90000000000009" height="1.60" fill="#fcf8f7"/>
<rect x="1320.1" y="472.70" width="73.90000000000009" height="1.60" fill="#fbf7f6"/>
<rect x="1320.1" y="473.70" width="73.90000000000009" height="1.60" fill="#fbf5f4"/>
<rect x="1320.1" y="474.70" width="73.90000000000009" height="1.60" fill="#faf4f3"/>
<rect x="1320.1" y="475.70" width="73.90000000000009" height="1.60" fill="#faf3f1"/>
<rect x="1320.1" y="476.69" width="73.90000000000009" height="1.60" fill="#f9f1f0"/>
<rect x="1320.1" y="477.69" width="73.90000000000009" height="1.60" fill="#f9f0ee"/>
<rect x="1320.1" y="478.69" width="73.90000000000009" height="1.60" fill="#f8efed"/>
<rect x="1320.1" y="479.69" width="73.90000000000009" height="1.60" fill="#f7edeb"/>
<rect x="1320.1" y="480.69" width="73.90000000000009" height="1.60" fill="#f7ecea"/>
<rect x="1320.1" y="481.69" width="73.90000000000009" height="1.60" fill="#f6ebe8"/>
<rect x="1320.1" y="482.69" width="73.90000000000009" height="1.60" fill="#f5e9e7"/>
<rect x="1320.1" y="483.69" width="73.90000000000009" height="1.60" fill="#f5e8e5"/>
<rect x="1320.1" y="484.69" width="73.90000000000009" height="1.60" fill="#f4e7e4"/>
<rect x="1320.1" y="485.69" width="73.90000000000009" height="1.60" fill="#f4e5e2"/>
<rect x="1320.1" y="486.69" width="73.90000000000009" height="1.60" fill="#f3e4e1"/>
<rect x="1320.1" y="487.69" width="73.90000000000009" height="1.60" fill="#f2e3df"/>
<rect x="1320.1" y="488.69" width="73.90000000000009" height="1.60" fill="#f2e1de"/>
<rect x="1320.1" y="489.69" width="73.90000000000009" height="1.60" fill="#f1e0dc"/>
<rect x="1320.1" y="490.69" width="73.90000000000009" height="1.60" fill="#f1dfdb"/>
<rect x="1320.1" y="491.69" width="73.90000000000009" height="1.60" fill="#f0ddd9"/>
<rect x="1320.1" y="492.69" width="73.90000000000009" height="1.60" fill="#efdcd8"/>
<rect x="1320.1" y="493.69" width="73.90000000000009" height="1.60" fill="#efdbd6"/>
<rect x="1320.1" y="494.69" width="73.90000000000009" height="1.60" fill="#eed9d5"/>
<rect x="1320.1" y="495.68" width="73.90000000000009" height="1.60" fill="#edd8d3"/>
<rect x="1320.1" y="496.68" width="73.90000000000009" height="1.60" fill="#edd7d2"/>
<rect x="1320.1" y="497.68" width="73.90000000000009" height="1.60" fill="#ecd5d0"/>
<rect x="1320.1" y="498.68" width="73.90000000000009" height="1.60" fill="#ebd4cf"/>
<rect x="1320.1" y="499.68" width="73.90000000000009" height="1.60" fill="#ebd3cd"/>
<rect x="1320.1" y="500.68" width="73.90000000000009" height="1.60" fill="#ead1cc"/>
<rect x="1320.1" y="501.68" width="73.90000000000009" height="1.60" fill="#ead0cb"/>
<rect x="1320.1" y="502.68" width="73.90000000000009" height="1.60" fill="#e9cfc9"/>
<rect x="1320.1" y="503.68" width="73.90000000000009" height="1.60" fill="#e8cdc8"/>
<rect x="1320.1" y="504.68" width="73.90000000000009" height="1.60" fill="#e8ccc6"/>
<rect x="1320.1" y="505.68" width="73.90000000000009" height="1.60" fill="#e7cbc5"/>
<rect x="1320.1" y="506.68" width="73.90000000000009" height="1.60" fill="#e6c9c3"/>
<rect x="1320.1" y="507.68" width="73.90000000000009" height="1.60" fill="#e6c8c2"/>
<rect x="1320.1" y="508.68" width="73.90000000000009" height="1.60" fill="#e5c7c0"/>
<rect x="1320.1" y="509.68" width="73.90000000000009" height="1.60" fill="#e4c5bf"/>
<rect x="1320.1" y="510.68" width="73.90000000000009" height="1.60" fill="#e4c4bd"/>
<rect x="1320.1" y="511.68" width="73.90000000000009" height="1.60" fill="#e3c3bc"/>
<rect x="1320.1" y="512.68" width="73.90000000000009" height="1.60" fill="#e2c1bb"/>
<rect x="1320.1" y="513.67" width="73.90000000000009" height="1.60" fill="#e2c0b9"/>
<rect x="1320.1" y="514.67" width="73.90000000000009" height="1.60" fill="#e1bfb8"/>
<rect x="1320.1" y="515.67" width="73.90000000000009" height="1.60" fill="#e0beb6"/>
<rect x="1320.1" y="516.67" width="73.90000000000009" height="1.60" fill="#e0bcb5"/>
<rect x="1320.1" y="517.67" width="73.90000000000009" height="1.60" fill="#dfbbb3"/>
<rect x="1320.1" y="518.67" width="73.90000000000009" height="1.60" fill="#debab2"/>
<rect x="1320.1" y="519.67" width="73.90000000000009" height="1.60" fill="#deb8b0"/>
<rect x="1320.1" y="520.67" width="73.90000000000009" height="1.60" fill="#ddb7af"/>
<rect x="1320.1" y="521.67" width="73.90000000000009" height="1.60" fill="#dcb6ae"/>
<rect x="1320.1" y="522.67" width="73.90000000000009" height="1.60" fill="#dcb4ac"/>
<rect x="1320.1" y="523.67" width="73.90000000000009" height="1.60" fill="#dbb3ab"/>
<rect x="1320.1" y="524.67" width="73.90000000000009" height="1.60" fill="#dab2a9"/>
<rect x="1320.1" y="525.67" width="73.90000000000009" height="1.60" fill="#d9b1a8"/>
<rect x="1320.1" y="526.67" width="73.90000000000009" height="1.60" fill="#d9afa7"/>
<rect x="1320.1" y="527.67" width="73.90000000000009" height="1.60" fill="#d8aea5"/>
<rect x="1320.1" y="528.67" width="73.90000000000009" height="1.60" fill="#d7ada4"/>
<rect x="1320.1" y="529.67" width="73.90000000000009" height="1.60" fill="#d7aba2"/>
<rect x="1320.1" y="530.67" width="73.90000000000009" height="1.60" fill="#d6aaa1"/>
<rect x="1320.1" y="531.66" width="73.90000000000009" height="1.60" fill="#d5a99f"/>
<rect x="1320.1" y="532.66" width="73.90000000000009" height="1.60" fill="#d5a79e"/>
<rect x="1320.1" y="533.66" width="73.90000000000009" height="1.60" fill="#d4a69d"/>
<rect x="1320.1" y="534.66" width="73.90000000000009" height="1.60" fill="#d3a59b"/>
<rect x="1320.1" y="535.66" width="73.90000000000009" height="1.60" fill="#d2a49a"/>
<rect x="1320.1" y="536.66" width="73.90000000000009" height="1.60" fill="#d2a298"/>
<rect x="1320.1" y="537.66" width="73.90000000000009" height="1.60" fill="#d1a197"/>
<rect x="1320.1" y="538.66" width="73.90000000000009" height="1.60" fill="#d0a096"/>
<rect x="1320.1" y="539.66" width="73.90000000000009" height="1.60" fill="#d09e94"/>
<rect x="1320.1" y="540.66" width="73.90000000000009" height="1.60" fill="#cf9d93"/>
<rect x="1320.1" y="541.66" width="73.90000000000009" height="1.60" fill="#ce9c92"/>
<rect x="1320.1" y="542.66" width="73.90000000000009" height="1.60" fill="#cd9b90"/>
<rect x="1320.1" y="543.66" width="73.90000000000009" height="1.60" fill="#cd998f"/>
<rect x="1320.1" y="544.66" width="73.90000000000009" height="1.60" fill="#cc988d"/>
<rect x="1320.1" y="545.66" width="73.90000000000009" height="1.60" fill="#cb978c"/>
<rect x="1320.1" y="546.66" width="73.90000000000009" height="1.60" fill="#cb968b"/>
<rect x="1320.1" y="547.66" width="73.90000000000009" height="1.60" fill="#ca9489"/>
<rect x="1320.1" y="548.66" width="73.90000000000009" height="1.60" fill="#c99388"/>
<rect x="1320.1" y="549.66" width="73.90000000000009" height="1.60" fill="#c89287"/>
<rect x="1320.1" y="550.65" width="73.90000000000009" height="1.60" fill="#c89085"/>
<rect x="1320.1" y="551.65" width="73.90000000000009" height="1.60" fill="#c78f84"/>
<rect x="1320.1" y="552.65" width="73.90000000000009" height="1.60" fill="#c68e82"/>
<rect x="1320.1" y="553.65" width="73.90000000000009" height="1.60" fill="#c58d81"/>
<rect x="1320.1" y="554.65" width="73.90000000000009" height="1.60" fill="#c58b80"/>
<rect x="1320.1" y="555.65" width="73.90000000000009" height="1.60" fill="#c48a7e"/>
<rect x="1320.1" y="556.65" width="73.90000000000009" height="1.60" fill="#c3897d"/>
<rect x="1320.1" y="557.65" width="73.90000000000009" height="1.60" fill="#c2887c"/>
<rect x="1320.1" y="558.65" width="73.90000000000009" height="1.60" fill="#c2867a"/>
<rect x="1320.1" y="559.65" width="73.90000000000009" height="1.60" fill="#c18579"/>
<rect x="1320.1" y="560.65" width="73.90000000000009" height="1.60" fill="#c08478"/>
<rect x="1320.1" y="561.65" width="73.90000000000009" height="1.60" fill="#bf8376"/>
<rect x="1320.1" y="562.65" width="73.90000000000009" height="1.60" fill="#be8175"/>
<rect x="1320.1" y="563.65" width="73.90000000000009" height="1.60" fill="#be8074"/>
<rect x="1320.1" y="564.65" width="73.90000000000009" height="1.60" fill="#bd7f72"/>
<rect x="1320.1" y="565.65" width="73.90000000000009" height="1.60" fill="#bc7e71"/>
<rect x="1320.1" y="566.65" width="73.90000000000009" height="1.60" fill="#bb7c70"/>
<rect x="1320.1" y="567.65" width="73.90000000000009" height="1.60" fill="#bb7b6e"/>
<rect x="1320.1" y="568.64" width="73.90000000000009" height="1.60" fill="#ba7a6d"/>
<rect x="1320.1" y="569.64" width="73.90000000000009" height="1.60" fill="#b9796c"/>
<rect x="1320.1" y="570.64" width="73.90000000000009" height="1.60" fill="#b8776a"/>
<rect x="1320.1" y="571.64" width="73.90000000000009" height="1.60" fill="#b87669"/>
<rect x="1320.1" y="572.64" width="73.90000000000009" height="1.60" fill="#b77568"/>
<rect x="1320.1" y="573.64" width="73.90000000000009" height="1.60" fill="#b67466"/>
<rect x="1320.1" y="574.64" width="73.90000000000009" height="1.60" fill="#b57265"/>
<rect x="1320.1" y="575.64" width="73.90000000000009" height="1.60" fill="#b47164"/>
<rect x="1320.1" y="576.64" width="73.90000000000009" height="1.60" fill="#b47063"/>
<rect x="1320.1" y="577.64" width="73.90000000000009" height="1.60" fill="#b36f61"/>
<rect x="1320.1" y="578.64" width="73.90000000000009" height="1.60" fill="#b26d60"/>
<rect x="1320.1" y="579.64" width="73.90000000000009" height="1.60" fill="#b16c5f"/>
<rect x="1320.1" y="580.64" width="73.90000000000009" height="1.60" fill="#b06b5d"/>
<rect x="1320.1" y="581.64" width="73.90000000000009" height="1.60" fill="#b06a5c"/>
<rect x="1320.1" y="582.64" width="73.90000000000009" height="1.60" fill="#af685b"/>
<rect x="1320.1" y="583.64" width="73.90000000000009" height="1.60" fill="#ae675a"/>
<rect x="1320.1" y="584.64" width="73.90000000000009" height="1.60" fill="#ad6658"/>
<rect x="1320.1" y="585.64" width="73.90000000000009" height="1.60" fill="#ac6557"/>
<rect x="1320.1" y="586.63" width="73.90000000000009" height="1.60" fill="#ab6356"/>
<rect x="1320.1" y="587.63" width="73.90000000000009" height="1.60" fill="#ab6254"/>
<rect x="1320.1" y="588.63" width="73.90000000000009" height="1.60" fill="#aa6153"/>
<rect x="1320.1" y="589.63" width="73.90000000000009" height="1.60" fill="#a96052"/>
<rect x="1320.1" y="590.63" width="73.90000000000009" height="1.60" fill="#a85f51"/>
<rect x="1320.1" y="591.63" width="73.90000000000009" height="1.60" fill="#a75d4f"/>
<rect x="1320.1" y="592.63" width="73.90000000000009" height="1.60" fill="#a75c4e"/>
<rect x="1320.1" y="593.63" width="73.90000000000009" height="1.60" fill="#a65b4d"/>
<rect x="1320.1" y="594.63" width="73.90000000000009" height="1.60" fill="#a55a4c"/>
<rect x="1320.1" y="595.63" width="73.90000000000009" height="1.60" fill="#a4584a"/>
<rect x="1320.1" y="596.63" width="73.90000000000009" height="1.60" fill="#a35749"/>
<rect x="1320.1" y="597.63" width="73.90000000000009" height="1.60" fill="#a25648"/>
<rect x="1320.1" y="598.63" width="73.90000000000009" height="1.60" fill="#a25547"/>
<rect x="1320.1" y="599.63" width="73.90000000000009" height="1.60" fill="#a15345"/>
<rect x="1320.1" y="600.63" width="73.90000000000009" height="1.60" fill="#a05244"/>
<rect x="1320.1" y="601.63" width="73.90000000000009" height="1.60" fill="#9f5143"/>
<rect x="1320.1" y="602.63" width="73.90000000000009" height="1.60" fill="#9e5042"/>
<rect x="1320.1" y="603.63" width="73.90000000000009" height="1.60" fill="#9d4e41"/>
<rect x="1320.1" y="604.63" width="73.90000000000009" height="1.60" fill="#9c4d3f"/>
<rect x="1320.1" y="605.62" width="73.90000000000009" height="1.60" fill="#9c4c3e"/>
<rect x="1320.1" y="606.62" width="73.90000000000009" height="1.60" fill="#9b4b3d"/>
<rect x="1320.1" y="607.62" width="73.90000000000009" height="1.60" fill="#9a493c"/>
<rect x="1320.1" y="608.62" width="73.90000000000009" height="1.60" fill="#99483b"/>
<rect x="1320.1" y="609.62" width="73.90000000000009" height="1.60" fill="#984739"/>
<rect x="1320.1" y="610.62" width="73.90000000000009" height="1.60" fill="#974638"/>
<rect x="1320.1" y="611.62" width="73.90000000000009" height="1.60" fill="#964437"/>
<rect x="1320.1" y="612.62" width="73.90000000000009" height="1.60" fill="#964336"/>
<rect x="1320.1" y="613.62" width="73.90000000000009" height="1.60" fill="#954235"/>
<rect x="1320.1" y="614.62" width="73.90000000000009" height="1.60" fill="#944133"/>
<rect x="1320.1" y="615.62" width="73.90000000000009" height="1.60" fill="#933f32"/>
<rect x="1320.1" y="616.62" width="73.90000000000009" height="1.60" fill="#923e31"/>
<rect x="1320.1" y="617.62" width="73.90000000000009" height="1.60" fill="#913d30"/>
<rect x="1320.1" y="618.62" width="73.90000000000009" height="1.60" fill="#903c2f"/>
<rect x="1320.1" y="619.62" width="73.90000000000009" height="1.60" fill="#8f3a2d"/>
<rect x="1320.1" y="620.62" width="73.90000000000009" height="1.60" fill="#8e392c"/>
<rect x="1320.1" y="621.62" width="73.90000000000009" height="1.60" fill="#8e382b"/>
<rect x="1320.1" y="622.62" width="73.90000000000009" height="1.60" fill="#8d362a"/>
<rect x="1320.1" y="623.61" width="73.90000000000009" height="1.60" fill="#8c3529"/>
<rect x="1320.1" y="624.61" width="73.90000000000009" height="1.60" fill="#8b3428"/>
<rect x="1320.1" y="625.61" width="73.90000000000009" height="1.60" fill="#8a3326"/>
<rect x="1320.1" y="626.61" width="73.90000000000009" height="1.60" fill="#893125"/>
<rect x="1320.1" y="627.61" width="73.90000000000009" height="1.60" fill="#883024"/>
<rect x="1320.1" y="628.61" width="73.90000000000009" height="1.60" fill="#872f23"/>
<rect x="1320.1" y="629.61" width="73.90000000000009" height="1.60" fill="#862d22"/>
<rect x="1320.1" y="630.61" width="73.90000000000009" height="1.60" fill="#852c21"/>
<rect x="1320.1" y="631.61" width="73.90000000000009" height="1.60" fill="#852b20"/>
<rect x="1320.1" y="632.61" width="73.90000000000009" height="1.60" fill="#84291e"/>
<rect x="1320.1" y="633.61" width="73.90000000000009" height="1.60" fill="#83281d"/>
<rect x="1320.1" y="634.61" width="73.90000000000009" height="1.60" fill="#82261c"/>
<rect x="1320.1" y="635.61" width="73.90000000000009" height="1.60" fill="#81251b"/>
<rect x="1320.1" y="636.61" width="73.90000000000009" height="1.60" fill="#80241a"/>
<rect x="1320.1" y="637.61" width="73.90000000000009" height="1.60" fill="#7f2219"/>
<rect x="1320.1" y="638.61" width="73.90000000000009" height="1.60" fill="#7e2118"/>
<rect x="1320.1" y="639.61" width="73.90000000000009" height="1.60" fill="#7d1f17"/>
<rect x="1320.1" y="640.61" width="73.90000000000009" height="1.60" fill="#7c1e15"/>
<rect x="1320.1" y="641.60" width="73.90000000000009" height="1.60" fill="#7b1c14"/>
<rect x="1320.1" y="642.60" width="73.90000000000009" height="1.60" fill="#7a1a13"/>
<rect x="1320.1" y="643.60" width="73.90000000000009" height="1.60" fill="#791912"/>
<rect x="1320.1" y="644.60" width="73.90000000000009" height="1.60" fill="#781711"/>
<rect x="1320.1" y="645.60" width="73.90000000000009" height="1.60" fill="#771510"/>
<rect x="1320.1" y="646.60" width="73.90000000000009" height="1.60" fill="#77130f"/>
<rect x="1320.1" y="647.60" width="73.90000000000009" height="1.60" fill="#76120d"/>
<rect x="1320.1" y="648.60" width="73.90000000000009" height="1.60" fill="#75100c"/>
<rect x="1320.1" y="649.60" width="73.90000000000009" height="1.60" fill="#740e0b"/>
<line x1="1320.1" y1="284.50" x2="1335.1" y2="284.50" stroke="#fff" stroke-width="1.2"/>
<line x1="1379.0" y1="284.50" x2="1394.0" y2="284.50" stroke="#fff" stroke-width="1.2"/>
<line x1="1320.1" y1="375.82" x2="1335.1" y2="375.82" stroke="#fff" stroke-width="1.2"/>
<line x1="1379.0" y1="375.82" x2="1394.0" y2="375.82" stroke="#fff" stroke-width="1.2"/>
<line x1="1320.1" y1="467.15" x2="1335.1" y2="467.15" stroke="#fff" stroke-width="1.2"/>
<line x1="1379.0" y1="467.15" x2="1394.0" y2="467.15" stroke="#fff" stroke-width="1.2"/>
<line x1="1320.1" y1="558.47" x2="1335.1" y2="558.47" stroke="#fff" stroke-width="1.2"/>
<line x1="1379.0" y1="558.47" x2="1394.0" y2="558.47" stroke="#fff" stroke-width="1.2"/>
<line x1="1320.1" y1="649.80" x2="1335.1" y2="649.80" stroke="#fff" stroke-width="1.2"/>
<line x1="1379.0" y1="649.80" x2="1394.0" y2="649.80" stroke="#fff" stroke-width="1.2"/>
<text x="1415.5" y="297.00" font-size="37" fill="#000" stroke="#000">1.0</text>
<text x="1415.5" y="388.32" font-size="37" fill="#000" stroke="#000">0.5</text>
<text x="1415.5" y="479.65" font-size="37" fill="#000" stroke="#000">0.0</text>
<text x="1415.5" y="570.97" font-size="37" fill="#000" stroke="#000">−0.5</text>
<text x="1415.5" y="662.30" font-size="37" fill="#000" stroke="#000">−1.0</text>
<text x="1319.4" y="257.6" font-size="44.6" fill="#000" stroke="#000">Corr</text>
</svg></body></html>
